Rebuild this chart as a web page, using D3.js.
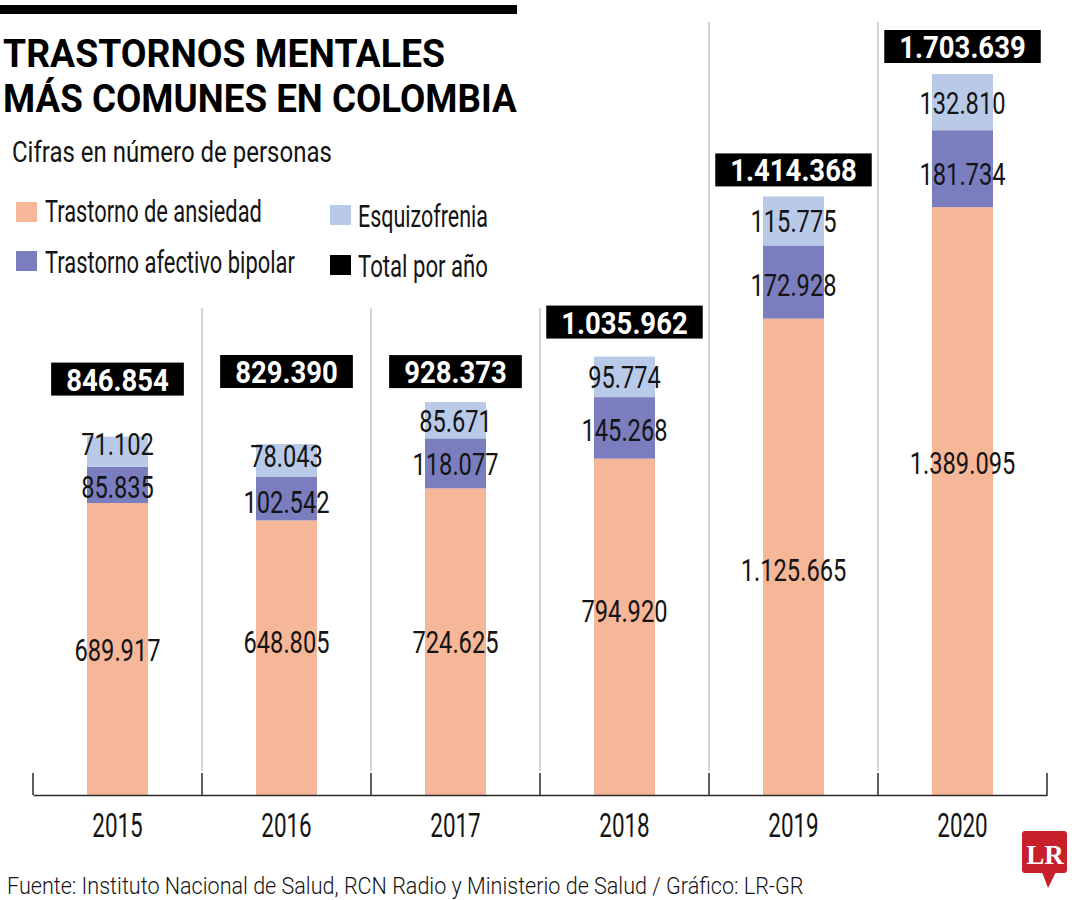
<!DOCTYPE html>
<html><head><meta charset="utf-8">
<script src="https://cdn.jsdelivr.net/npm/d3@7"></script>
<style>
html,body{margin:0;padding:0;background:#fff;}
svg{display:block;font-family:Roboto,"Noto Sans",sans-serif;}
</style></head><body>
<svg id="chart" width="1080" height="900"></svg>
<script>
// ---------- data ----------
const years = ["2015","2016","2017","2018","2019","2020"];
const ansiedad = [689917, 648805, 724625, 794920, 1125665, 1389095];
const bipolar = [85835, 102542, 118077, 145268, 172928, 181734];
const esquizofrenia = [71102, 78043, 85671, 95774, 115775, 132810];
const totals = [846854, 829390, 928373, 1035962, 1414368, 1703639];
const seriesKeys = ["ansiedad", "bipolar", "esquizofrenia"];
const legendLabels = ["Trastorno de ansiedad", "Trastorno afectivo bipolar", "Esquizofrenia", "Total por año"];
const titleLines = ["TRASTORNOS MENTALES", "MÁS COMUNES EN COLOMBIA"];
const subtitle = "Cifras en número de personas";
const source = "Fuente: Instituto Nacional de Salud, RCN Radio y Ministerio de Salud / Gráfico: LR-GR";

// ---------- style / layout ----------
const colors = {ansiedad: "#F6B698", bipolar: "#7B7EBE", esquizofrenia: "#B9CAE9"};
const boxGap = [41, 56, 14, 18, 10, 11];
const labelShift = {
  ansiedad: [0, -16, 0, -16, 13, -39],
  bipolar: [2, 3, 0, 2, 2, 5],
  esquizofrenia: [-8, -5, 0, 0, 0, 0]
};
const ink = "#141414";

const fmt = n => d3.format(",")(n).replace(/,/g, ".");

const svg = d3.select("#chart");

const rows = years.map((y, i) => ({year: y, ansiedad: ansiedad[i], bipolar: bipolar[i], esquizofrenia: esquizofrenia[i]}));
const stacked = d3.stack().keys(seriesKeys)(rows);

const x = d3.scaleBand().domain(years).range([33, 1047]).paddingInner(0).paddingOuter(0);
const y = d3.scaleLinear().domain([0, d3.max(totals)]).range([795, 74]);
const barW = 61;
const cx = yr => x(yr) + x.bandwidth() / 2;

// text helper: condensed text via horizontal scale
function txt(parent, px, py, str, o) {
  const g = parent.append("g");
  const t = g.append("text").text(str)
    .attr("text-anchor", o.anchor || "start")
    .attr("fill", o.fill || ink)
    .style("font-size", o.size + "px")
    .style("font-weight", o.weight || 400)
    .style("font-family", o.family || null);
  let sx = o.sx || 1;
  const w = t.node().getComputedTextLength();
  if (o.width) sx = o.width / w;
  g.attr("transform", `translate(${px},${py}) scale(${sx},1)`);
  return {g, t, w: w * sx};
}

// ---------- header ----------
svg.append("rect").attr("x", 0).attr("y", 5).attr("width", 517).attr("height", 9).attr("fill", "#000");
txt(svg, 3, 67, titleLines[0], {size: 38, weight: 700, width: 442, fill: "#000"});
txt(svg, 3, 112, titleLines[1], {size: 38, weight: 700, width: 514, fill: "#000"});
txt(svg, 12, 162, subtitle, {size: 29, weight: 400, width: 320});

// legend
const legendItems = [
  {label: legendLabels[0], color: colors.ansiedad, sx: 16, sy: 202, tx: 45, ty: 222, w: 217},
  {label: legendLabels[1], color: colors.bipolar, sx: 16, sy: 251, tx: 45, ty: 273, w: 250},
  {label: legendLabels[2], color: colors.esquizofrenia, sx: 330, sy: 205, tx: 358, ty: 227, w: 130},
  {label: legendLabels[3], color: "#000", sx: 330, sy: 255, tx: 358, ty: 277, w: 130}
];
legendItems.forEach(d => {
  svg.append("rect").attr("x", d.sx).attr("y", d.sy).attr("width", 21).attr("height", 20).attr("fill", d.color);
  txt(svg, d.tx, d.ty, d.label, {size: 31, width: d.w});
});

// ---------- grid + axis ----------
const bounds = years.map(yr => x(yr)).concat([x(years[years.length - 1]) + x.bandwidth()]);
svg.append("g").selectAll("line").data(bounds.slice(1, -1)).join("line")
  .attr("x1", d => d).attr("x2", d => d)
  .attr("y1", (d, i) => i < 3 ? 308 : 22).attr("y2", 771)
  .attr("stroke", "#c6c6c6").attr("stroke-width", 1.5);
svg.append("g").selectAll("line").data(bounds).join("line")
  .attr("x1", d => d).attr("x2", d => d)
  .attr("y1", 773).attr("y2", 795)
  .attr("stroke", "#2a2a2a").attr("stroke-width", 1.5);

// bars
svg.append("g").selectAll("g").data(stacked).join("g")
  .attr("fill", d => colors[d.key])
  .selectAll("rect").data(d => d).join("rect")
  .attr("x", d => cx(d.data.year) - barW / 2)
  .attr("width", barW)
  .attr("y", d => y(d[1]))
  .attr("height", d => y(d[0]) - y(d[1]));

const axis = svg.append("g").attr("transform", "translate(0,795)")
  .call(d3.axisBottom(x).tickSize(0).tickSizeOuter(0));
axis.select(".domain").attr("stroke", "#2a2a2a").attr("stroke-width", 1.5);
axis.selectAll(".tick text")
  .attr("y", 42).attr("dy", 0)
  .attr("fill", ink)
  .style("font-size", "34px").style("font-family", "Roboto")
  .attr("transform", "scale(0.66,1)");

// segment labels
const labG = svg.append("g");
stacked.forEach(s => {
  s.forEach((d, j) => {
    const mid = (y(d[0]) + y(d[1])) / 2 + 11.5 + labelShift[s.key][j];
    txt(labG, cx(d.data.year), mid, fmt(d[1] - d[0]), {size: 32, anchor: "middle", sx: 0.74});
  });
});

// total boxes
const totG = svg.append("g");
years.forEach((yr, i) => {
  const bottom = y(totals[i]) - boxGap[i];
  const g = totG.append("g");
  const rect = g.append("rect").attr("fill", "#000");
  const lab = txt(g, cx(yr), bottom - 5, fmt(totals[i]), {size: 32, weight: 700, anchor: "middle", sx: 0.86, fill: "#fff"});
  const bw = lab.w + 30;
  rect.attr("x", cx(yr) - bw / 2).attr("y", bottom - 33).attr("width", bw).attr("height", 33);
});

// ---------- footer ----------
txt(svg, 7, 894, source, {size: 23, weight: 300, width: 797});

// LR logo
const logo = svg.append("g");
logo.append("rect").attr("x", 1022).attr("y", 831).attr("width", 45).attr("height", 42).attr("rx", 3).attr("fill", "#C8202B");
logo.append("path").attr("d", "M1042,872 L1056,872 L1048,888 Z").attr("fill", "#C8202B");
logo.append("text").attr("x", 1045).attr("y", 864).attr("text-anchor", "middle")
  .attr("fill", "#fff").style("font-family", "'Liberation Serif','DejaVu Serif',serif")
  .style("font-weight", 700).style("font-size", "27px").text("LR");
</script>
</body></html>
